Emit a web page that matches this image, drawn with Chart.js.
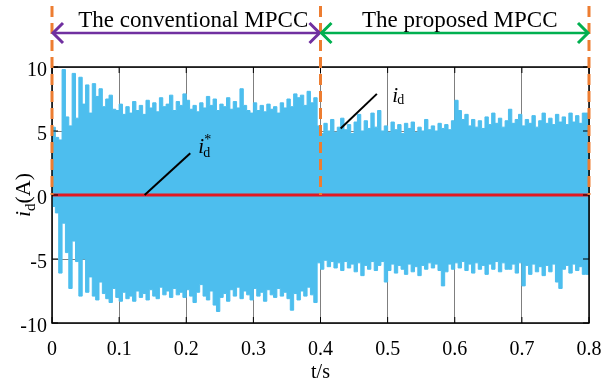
<!DOCTYPE html>
<html lang="en">
<head>
<meta charset="UTF-8">
<title>i_d - conventional vs proposed MPCC</title>
<script src="https://cdn.jsdelivr.net/npm/chart.js"></script>
<style>
  html, body { margin: 0; padding: 0; background: #fff; }
  #wrap { width: 605px; height: 381px; position: relative; }
</style>
</head>
<body>
<div id="wrap"><canvas id="grafico"></canvas></div>
<script>
// envelope of the measured i_d, one value every 5 ms (A)
const passo = 0.005;
const tFim = 0.8;

// 0 - 0.4 s : conventional MPCC
const upperConv = [5.7,5.3,4.5,4.3,9.8,6.1,5.4,9.5,6.0,9.2, 7.1,8.6,6.4,8.7,7.7,8.3,6.9,7.5,7.8,6.7,
                   6.6,7.1,6.3,6.9,6.4,7.3,6.6,7.0,6.3,7.4, 6.8,7.2,6.5,7.6,6.9,7.1,7.8,6.6,7.3,7.0,
                   7.9,7.4,6.7,7.0,6.5,7.2,6.8,7.7,7.0,7.5, 6.6,7.1,6.9,7.6,6.7,7.3,6.8,8.3,7.0,6.6,
                   6.4,7.2,6.6,7.0,6.5,7.1,6.7,6.9,6.4,7.2, 6.8,7.5,6.9,7.9,7.6,7.8,7.0,8.1,7.2,7.6];
const lowerConv = [-1.2,-0.9,-1.4,-6.1,-2.2,-4.5,-7.3,-3.6,-5.2,-7.9, -5.0,-7.6,-6.4,-7.9,-8.2,-6.8,-7.7,-8.1,-8.4,-7.3,
                   -8.0,-8.3,-7.6,-8.1,-7.9,-8.3,-7.5,-8.0,-7.7,-8.2, -7.4,-7.9,-8.1,-7.2,-7.8,-7.5,-8.0,-7.3,-7.8,-7.6,
                   -8.0,-7.4,-7.9,-8.4,-7.6,-7.0,-7.9,-8.2,-7.5,-8.6, -9.1,-8.0,-7.7,-8.3,-7.4,-7.9,-7.2,-8.1,-7.5,-7.8,
                   -8.2,-7.3,-7.9,-7.6,-8.3,-7.4,-7.8,-8.0,-7.3,-7.9, -7.6,-8.1,-9.0,-7.7,-8.2,-7.5,-7.9,-7.2,-7.8,-8.4];

// 0.4 - 0.8 s : proposed MPCC
const upperProp = [5.4,4.8,5.6,5.0,5.9,4.9,5.3,6.0,5.1,5.5, 4.8,5.7,6.3,5.0,5.8,5.2,6.4,5.3,6.6,5.0,
                   5.4,4.9,5.7,5.1,5.5,4.8,5.6,5.2,5.7,4.9, 5.3,5.0,5.9,5.1,5.4,5.0,5.6,5.2,5.5,5.1,
                   5.8,7.4,6.6,5.9,6.3,5.4,5.9,5.3,5.8,5.2, 6.1,5.5,6.4,5.6,6.0,5.3,5.8,6.7,5.6,5.9,
                   6.3,5.4,5.9,5.6,6.2,5.3,5.8,6.4,5.6,6.0, 5.5,6.3,5.7,6.1,5.5,6.4,5.7,6.2,5.6,6.4];
const lowerProp = [-5.3,-5.8,-5.1,-5.6,-5.2,-5.7,-5.3,-5.9,-5.2,-5.7, -5.4,-6.0,-5.3,-6.3,-5.5,-5.8,-5.2,-5.9,-5.5,-5.2,
                   -6.8,-5.9,-5.4,-6.1,-5.5,-5.8,-6.2,-5.4,-6.0,-5.6, -6.3,-5.5,-5.8,-5.3,-5.7,-5.4,-5.9,-7.1,-6.0,-5.4,
                   -5.8,-5.3,-5.7,-5.2,-5.9,-5.4,-6.1,-5.3,-5.8,-5.5, -6.2,-5.4,-5.8,-5.2,-6.0,-5.3,-5.8,-5.8,-5.4,-6.1,
                   -5.3,-7.1,-5.5,-6.2,-5.4,-6.0,-5.6,-6.3,-5.5,-6.0, -5.4,-6.8,-7.3,-5.8,-5.5,-6.1,-5.4,-5.9,-5.6,-6.2];

// reference i_d* = 0
const refTempo = [0, 0.8];
const refValor = [0, 0];

const xTickValues = [0, 0.1, 0.2, 0.3, 0.4, 0.5, 0.6, 0.7, 0.8];
const xTickLabels = ['0', '0.1', '0.2', '0.3', '0.4', '0.5', '0.6', '0.7', '0.8'];
const yTickValues = [-10, -5, 0, 5, 10];
const yTickLabels = ['-10', '-5', '0', '5', '10'];

const serif = '"Liberation Serif", "Times New Roman", serif';
const azul = '#4DBEEE';

function pontos(valores) {
  const pts = valores.map((v, i) => ({ x: i * passo, y: v }));
  pts.push({ x: tFim, y: valores[valores.length - 1] });
  return pts;
}

const superior = pontos(upperConv.concat(upperProp));
const inferior = pontos(lowerConv.concat(lowerProp));
const referencia = refTempo.map((t, i) => ({ x: t, y: refValor[i] }));

// extra drawings: box, ticks, dashed markers, arrows, labels
const desenhos = {
  id: 'desenhos',
  afterDatasetsDraw(chart) {
    const ctx = chart.ctx;
    const xs = chart.scales.x, ys = chart.scales.y;
    const a = chart.chartArea;

    function linha(x1, y1, x2, y2) {
      ctx.beginPath(); ctx.moveTo(x1, y1); ctx.lineTo(x2, y2); ctx.stroke();
    }

    ctx.save();
    // axes box
    ctx.strokeStyle = '#000';
    ctx.lineWidth = 1.5;
    ctx.strokeRect(a.left, a.top, a.right - a.left, a.bottom - a.top);
    ctx.lineWidth = 1;
    xTickValues.forEach(v => {
      const px = xs.getPixelForValue(v);
      linha(px, a.top, px, a.top + 6);
      linha(px, a.bottom, px, a.bottom - 6);
    });
    yTickValues.forEach(v => {
      const py = ys.getPixelForValue(v);
      linha(a.left, py, a.left + 6, py);
      linha(a.right, py, a.right - 6, py);
    });

    // orange dashed markers at 0, 0.4, 0.8 s
    const x0 = xs.getPixelForValue(0), x1 = xs.getPixelForValue(0.4), x2 = xs.getPixelForValue(0.8);
    const yZero = ys.getPixelForValue(0);
    ctx.strokeStyle = '#ED7D31';
    ctx.lineWidth = 3;
    ctx.setLineDash([11, 6]);
    [x0, x1, x2].forEach(px => linha(px, 6, px, yZero));
    ctx.setLineDash([]);

    // double arrows
    const ya = 33;
    function seta(xa, xb, cor) {
      ctx.strokeStyle = cor;
      ctx.lineWidth = 2.5;
      linha(xa + 1, ya, xb - 1, ya);
      ctx.lineWidth = 3;
      ctx.beginPath();
      ctx.moveTo(xa + 11, ya - 10); ctx.lineTo(xa + 1, ya); ctx.lineTo(xa + 11, ya + 10);
      ctx.stroke();
      ctx.beginPath();
      ctx.moveTo(xb - 11, ya - 10); ctx.lineTo(xb - 1, ya); ctx.lineTo(xb - 11, ya + 10);
      ctx.stroke();
    }
    seta(x0, x1, '#7030A0');
    seta(x1, x2, '#00B050');

    // pointer lines
    ctx.strokeStyle = '#000';
    ctx.lineWidth = 2;
    linha(xs.getPixelForValue(0.138), ys.getPixelForValue(0), xs.getPixelForValue(0.206), ys.getPixelForValue(3.26));
    linha(xs.getPixelForValue(0.43), ys.getPixelForValue(5.2), xs.getPixelForValue(0.484), ys.getPixelForValue(7.9));

    ctx.fillStyle = '#000';
    ctx.textBaseline = 'alphabetic';

    // region titles
    ctx.font = '23px ' + serif;
    ctx.textAlign = 'center';
    ctx.fillText('The conventional MPCC', xs.getPixelForValue(0.2) + 7, 27);
    ctx.fillText('The proposed MPCC', xs.getPixelForValue(0.6) + 5, 27);

    // x axis title
    ctx.font = '20px ' + serif;
    ctx.fillText('t/s', xs.getPixelForValue(0.4), 378);

    // i_d* label
    ctx.textAlign = 'left';
    let lx = xs.getPixelForValue(0.218), ly = ys.getPixelForValue(3.3);
    ctx.font = 'italic 21px ' + serif;
    ctx.fillText('i', lx, ly);
    ctx.font = '14px ' + serif;
    ctx.fillText('d', lx + 5, ly + 4);
    ctx.fillText('*', lx + 6, ly - 9);

    // i_d label
    lx = xs.getPixelForValue(0.507); ly = ys.getPixelForValue(7.3);
    ctx.font = 'italic 21px ' + serif;
    ctx.fillText('i', lx, ly);
    ctx.font = '14px ' + serif;
    ctx.fillText('d', lx + 5, ly + 2);

    // y axis title i_d(A)
    ctx.translate(30, ys.getPixelForValue(0));
    ctx.rotate(-Math.PI / 2);
    ctx.font = 'italic 22px ' + serif;
    const wi = ctx.measureText('i').width;
    ctx.font = '15px ' + serif;
    const wd = ctx.measureText('d').width;
    ctx.font = '22px ' + serif;
    const wa = ctx.measureText('(A)').width;
    const s = -(wi + wd + wa) / 2;
    ctx.font = 'italic 22px ' + serif;
    ctx.fillText('i', s, 0);
    ctx.font = '15px ' + serif;
    ctx.fillText('d', s + wi, 5);
    ctx.font = '22px ' + serif;
    ctx.fillText('(A)', s + wi + wd, 0);
    ctx.restore();
  }
};

new Chart(document.getElementById('grafico').getContext('2d'), {
  type: 'line',
  data: {
    datasets: [
      // first dataset is painted last, so the reference sits on top of the band
      { data: referencia, borderColor: 'rgb(226,24,34)', borderWidth: 3, pointRadius: 0, fill: false },
      { data: superior, stepped: 'after', borderColor: azul, backgroundColor: azul, borderWidth: 1, pointRadius: 0, fill: 'origin' },
      { data: inferior, stepped: 'after', borderColor: azul, backgroundColor: azul, borderWidth: 1, pointRadius: 0, fill: 'origin' }
    ]
  },
  options: {
    responsive: true,
    maintainAspectRatio: false,
    animation: false,
    layout: { padding: { top: 67, right: 16, left: 0, bottom: 0 } },
    plugins: { legend: { display: false }, tooltip: { enabled: false } },
    scales: {
      x: {
        type: 'linear', min: 0, max: 0.8,
        afterBuildTicks: sc => { sc.ticks = xTickValues.map(v => ({ value: v })); },
        afterFit: sc => { sc.height = 58; sc.paddingLeft = 0; sc.paddingRight = 0; },
        grid: { color: '#7f7f7f', lineWidth: 1, drawTicks: false },
        border: { display: false },
        ticks: {
          autoSkip: false, maxRotation: 0, padding: 15, color: '#000',
          font: { family: serif, size: 20 },
          callback: (v, i) => xTickLabels[i]
        }
      },
      y: {
        min: -10, max: 10,
        afterBuildTicks: sc => { sc.ticks = yTickValues.map(v => ({ value: v })); },
        afterFit: sc => { sc.width = 52; },
        grid: { color: '#7f7f7f', lineWidth: 1, drawTicks: false },
        border: { display: false },
        ticks: {
          padding: 5, labelOffset: 4, color: '#000',
          font: { family: serif, size: 20 },
          callback: (v, i) => yTickLabels[i]
        }
      }
    }
  },
  plugins: [desenhos]
});
</script>
</body>
</html>
